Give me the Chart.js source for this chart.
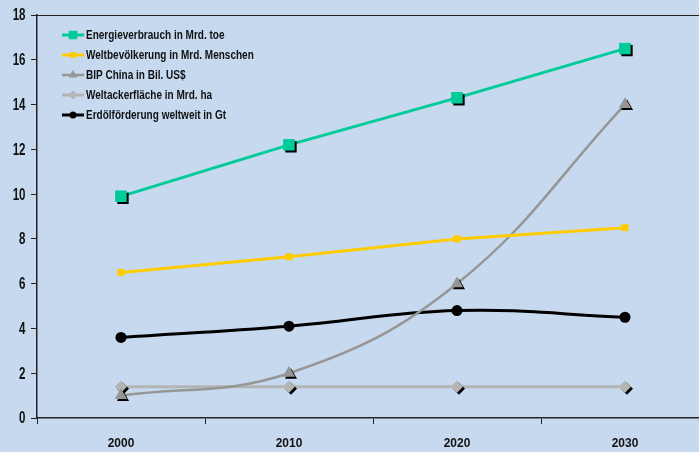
<!DOCTYPE html>
<html>
<head>
<meta charset="utf-8">
<script src="https://cdn.jsdelivr.net/npm/chart.js@4"></script>
<style>
  html, body { margin: 0; padding: 0; background: #C6D9EE; overflow: hidden; }
  #wrap { width: 720px; height: 452px; }
</style>
</head>
<body>
<div id="wrap"><canvas id="grafico" width="720" height="452"></canvas></div>
<script>
const jahre = ['2000', '2010', '2020', '2030'];
const yTicks = [0, 2, 4, 6, 8, 10, 12, 14, 16, 18];
const energie = [9.9, 12.2, 14.3, 16.5];
const bevoelkerung = [6.5, 7.2, 8.0, 8.5];
const bipChina = [1.0, 2.0, 6.0, 14.0];
const ackerflaeche = [1.4, 1.4, 1.4, 1.4];
const erdoel = [3.6, 4.1, 4.8, 4.5];

const schrift = "'Liberation Sans', Arial, sans-serif";

const reihen = [
  { label: 'Energieverbrauch in Mrd. toe', data: energie, color: '#00CC99', style: 'rect', radius: 8, legR: 6, width: 3, tension: 0, shadow: true },
  { label: 'Weltbevölkerung in Mrd. Menschen', data: bevoelkerung, color: '#FFCC00', style: 'rect', radius: 5, legR: 4, width: 3, tension: 0, shadow: false },
  { label: 'BIP China in Bil. US$', data: bipChina, color: '#969696', style: 'triangle', radius: 7, legR: 5, width: 2.5, tension: 0.4, shadow: true },
  { label: 'Weltackerfläche in Mrd. ha', data: ackerflaeche, color: '#B4B4B4', style: 'rectRot', radius: 6, legR: 4.5, width: 3, tension: 0, shadow: true },
  { label: 'Erdölförderung weltweit in Gt', data: erdoel, color: '#000000', style: 'circle', radius: 5.5, legR: 3.5, width: 3, tension: 0.4, shadow: false }
];

// schmale, fette Schrift durch horizontales Stauchen
function schmal(ctx, text, x, y, align, size, sx) {
  ctx.save();
  ctx.translate(x, y);
  ctx.scale(sx, 1);
  ctx.font = 'bold ' + size + 'px ' + schrift;
  ctx.textAlign = align;
  ctx.textBaseline = 'middle';
  ctx.fillStyle = '#111';
  ctx.fillText(text, 0, 0);
  ctx.restore();
}

const extras = {
  id: 'extras',
  beforeDatasetsDraw(chart) {
    const { ctx, chartArea: a } = chart;
    ctx.save();
    ctx.strokeStyle = '#222';
    ctx.lineWidth = 1;
    ctx.beginPath();
    ctx.moveTo(a.left, a.top + 0.5);
    ctx.lineTo(a.right, a.top + 0.5);
    ctx.lineTo(a.right, a.bottom);
    ctx.stroke();
    ctx.restore();
  },
  afterDatasetDraw(chart, args) {
    const r = reihen[args.index];
    if (!r.shadow) return;
    const ctx = chart.ctx;
    args.meta.data.forEach(pt => {
      ctx.save();
      ctx.shadowColor = '#000';
      ctx.shadowOffsetX = 2;
      ctx.shadowOffsetY = 2;
      ctx.shadowBlur = 0;
      pt.draw(ctx);
      ctx.restore();
    });
  },
  afterDraw(chart) {
    const ctx = chart.ctx;
    const { x, y } = chart.scales;
    // Achsenbeschriftungen
    yTicks.forEach(v => schmal(ctx, String(v), 25.5, y.getPixelForValue(v) + 1, 'right', 16, 0.72));
    jahre.forEach((j, i) => schmal(ctx, j, x.getPixelForValue(i), 443, 'center', 13, 0.92));
    // Legende
    ctx.save();
    reihen.forEach((r, i) => {
      const ly = 35 + i * 20;
      ctx.strokeStyle = r.color;
      ctx.lineWidth = r.width;
      ctx.beginPath();
      ctx.moveTo(62, ly);
      ctx.lineTo(84, ly);
      ctx.stroke();
      ctx.fillStyle = r.color;
      Chart.helpers.drawPoint(ctx, { pointStyle: r.style, radius: r.legR, borderWidth: 0 }, 73, ly);
      schmal(ctx, r.label, 86, ly + 0.5, 'left', 13, 0.77);
    });
    ctx.restore();
  }
};

new Chart(document.getElementById('grafico'), {
  type: 'line',
  data: {
    labels: jahre,
    datasets: reihen.map(r => ({
      label: r.label,
      data: r.data,
      borderColor: r.color,
      backgroundColor: r.color,
      borderWidth: r.width,
      pointStyle: r.style,
      pointRadius: r.radius,
      pointBorderWidth: 0,
      pointBackgroundColor: r.color,
      tension: r.tension,
      fill: false
    }))
  },
  options: {
    responsive: false,
    animation: false,
    layout: { padding: { top: 15, right: 11, left: 0, bottom: 0 } },
    plugins: { legend: { display: false }, tooltip: { enabled: false } },
    scales: {
      x: {
        offset: true,
        grid: { offset: true, drawOnChartArea: false, color: '#222', tickLength: 6 },
        border: { color: '#222', width: 1.5 },
        ticks: { display: false },
        afterFit(s) { s.height = 34; }
      },
      y: {
        min: 0,
        max: 18,
        ticks: { stepSize: 2, display: false },
        grid: { drawOnChartArea: false, color: '#222', tickLength: 6 },
        border: { color: '#222', width: 1.5 },
        afterFit(s) { s.width = 37; }
      }
    }
  },
  plugins: [extras]
});
</script>
</body>
</html>
